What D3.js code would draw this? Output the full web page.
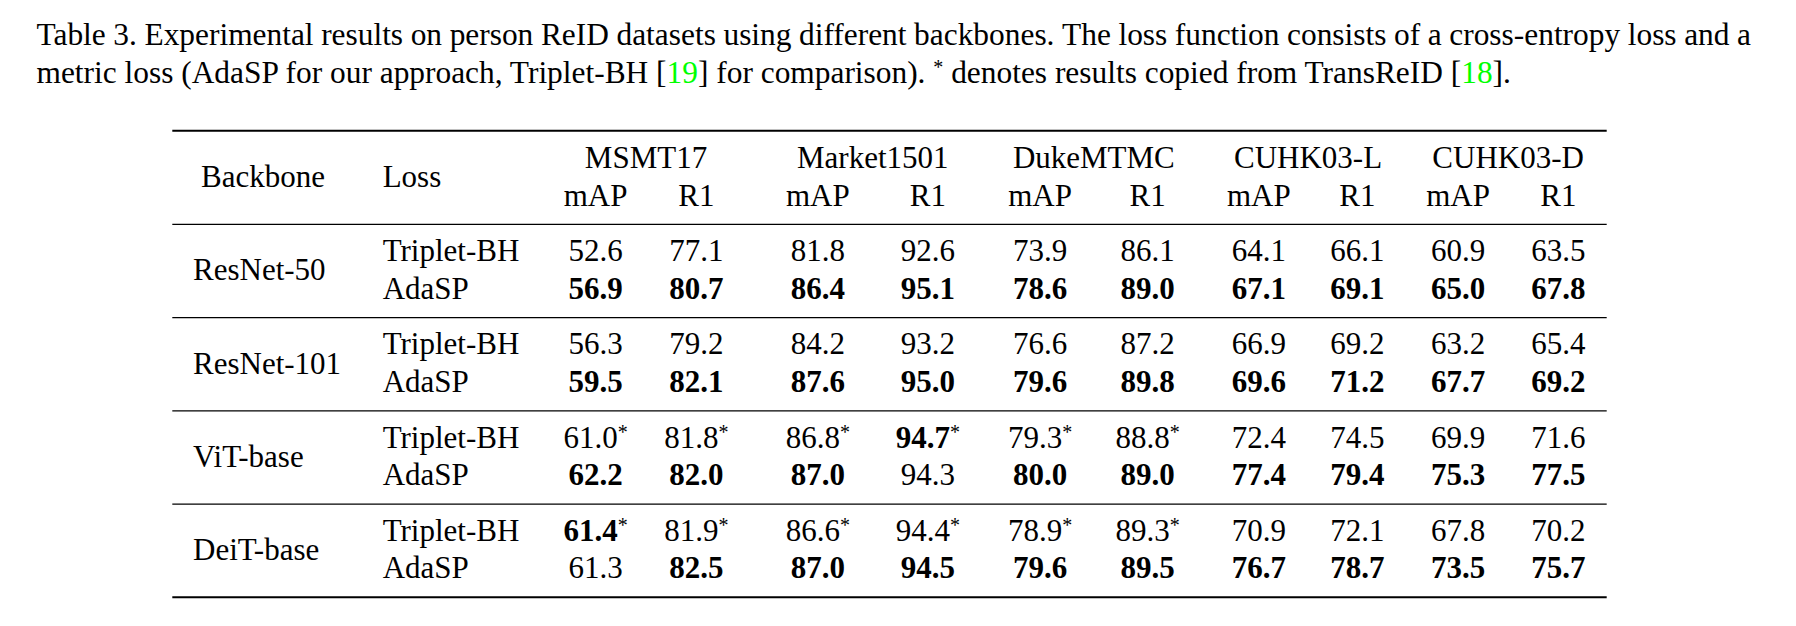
<!DOCTYPE html>
<html>
<head>
<meta charset="utf-8">
<script src="https://cdn.jsdelivr.net/npm/d3@7"></script>
<style>
  body { margin: 0; background: #fff; }
  text { font-family: "Liberation Serif", "Times New Roman", serif; fill: #000; }
</style>
</head>
<body>
<div id="table"></div>
<script>
// table content
var datasets = ['MSMT17', 'Market1501', 'DukeMTMC', 'CUHK03-L', 'CUHK03-D']
var metrics = ['mAP', 'R1']
var backbones = ['ResNet-50', 'ResNet-101', 'ViT-base', 'DeiT-base']
var losses = ['Triplet-BH', 'AdaSP']

// one row per backbone, columns: (mAP, R1) for each dataset
var tripletScores = [
    ['52.6', '77.1', '81.8', '92.6', '73.9', '86.1', '64.1', '66.1', '60.9', '63.5'],
    ['56.3', '79.2', '84.2', '93.2', '76.6', '87.2', '66.9', '69.2', '63.2', '65.4'],
    ['61.0', '81.8', '86.8', '94.7', '79.3', '88.8', '72.4', '74.5', '69.9', '71.6'],
    ['61.4', '81.9', '86.6', '94.4', '78.9', '89.3', '70.9', '72.1', '67.8', '70.2']
]
var adaspScores = [
    ['56.9', '80.7', '86.4', '95.1', '78.6', '89.0', '67.1', '69.1', '65.0', '67.8'],
    ['59.5', '82.1', '87.6', '95.0', '79.6', '89.8', '69.6', '71.2', '67.7', '69.2'],
    ['62.2', '82.0', '87.0', '94.3', '80.0', '89.0', '77.4', '79.4', '75.3', '77.5'],
    ['61.3', '82.5', '87.0', '94.5', '79.6', '89.5', '76.7', '78.7', '73.5', '75.7']
]
// * = copied from TransReID (Triplet-BH rows only)
var copiedFromTransReID = [
    [0, 0, 0, 0, 0, 0, 0, 0, 0, 0],
    [0, 0, 0, 0, 0, 0, 0, 0, 0, 0],
    [1, 1, 1, 1, 1, 1, 0, 0, 0, 0],
    [1, 1, 1, 1, 1, 1, 0, 0, 0, 0]
]

var captionLine1 = 'Table 3. Experimental results on person ReID datasets using different backbones. The loss function consists of a cross-entropy loss and a'

var width = 1796, height = 626
var fs = 31, capFs = 31.4

var svg = d3.select('#table').append('svg')
    .attr('width', width)
    .attr('height', height)

// ---- caption ----
// first line is justified like LaTeX: place each word and spread the gaps
var words = captionLine1.split(' ')
var capLeft = 36.5, capRight = 1751
var wordNodes = words.map(function (w) {
    return svg.append('text').attr('y', 45).style('font-size', capFs + 'px').text(w)
})
var wordW = wordNodes.map(function (n) { return n.node().getComputedTextLength() })
var gap = (capRight - capLeft - d3.sum(wordW)) / (words.length - 1)
var cx = capLeft
wordNodes.forEach(function (n, i) {
    n.attr('x', cx)
    cx += wordW[i] + gap
})

var line2 = svg.append('text').attr('x', capLeft).attr('y', 82.7).style('font-size', capFs + 'px')
line2.append('tspan').text('metric loss (AdaSP for our approach, Triplet-BH [')
line2.append('tspan').style('fill', '#00ff00').text('19')
line2.append('tspan').text('] for comparison). ')
line2.append('tspan').attr('dy', -9).style('font-size', '20px').text('*')
line2.append('tspan').attr('dy', 9).text(' denotes results copied from TransReID [')
line2.append('tspan').style('fill', '#00ff00').text('18')
line2.append('tspan').text('].')

// ---- layout ----
var tableLeft = 172.3, tableRight = 1606.7
var colKeys = d3.range(datasets.length * metrics.length)
var x = d3.scaleOrdinal()
    .domain(colKeys)
    .range([595.6, 696.4, 817.8, 927.8, 1040, 1147.7, 1258.8, 1357.3, 1458, 1558.3])
// group rules: header bottom rule, then one after each backbone
var ruleY = d3.scaleLinear().domain([0, backbones.length]).range([224.3, 597.3])

function rule(y, w) {
    svg.append('line')
        .attr('x1', tableLeft).attr('x2', tableRight)
        .attr('y1', y).attr('y2', y)
        .attr('stroke', '#000').attr('stroke-width', w)
}
rule(130.7, 2)
d3.range(backbones.length).forEach(function (i) { rule(ruleY(i), 1.3) })
rule(ruleY(backbones.length), 2)

// ---- header ----
svg.append('text').attr('x', 201).attr('y', 186.7).style('font-size', fs + 'px').text('Backbone')
svg.append('text').attr('x', 382.7).attr('y', 186.7).style('font-size', fs + 'px').text('Loss')

svg.selectAll('.dsName')
    .data(datasets)
    .enter()
    .append('text')
    .attr('class', 'dsName')
    .attr('x', function (d, i) { return (x(i * 2) + x(i * 2 + 1)) / 2 })
    .attr('y', 168.3)
    .attr('text-anchor', 'middle')
    .style('font-size', fs + 'px')
    .text(function (d) { return d })

svg.selectAll('.metric')
    .data(colKeys)
    .enter()
    .append('text')
    .attr('class', 'metric')
    .attr('x', function (d) { return x(d) })
    .attr('y', 206)
    .attr('text-anchor', 'middle')
    .style('font-size', fs + 'px')
    .text(function (d) { return metrics[d % 2] })

// ---- body ----
var offTriplet = 36.8, offAdasp = 74.3, offBackbone = 56

backbones.forEach(function (bb, b) {
    var top = ruleY(b)
    svg.append('text').attr('x', 193).attr('y', top + offBackbone)
        .style('font-size', fs + 'px').text(bb)

    var rows = [tripletScores[b], adaspScores[b]]
    rows.forEach(function (vals, r) {
        var y = top + (r == 0 ? offTriplet : offAdasp)
        svg.append('text').attr('x', 382.7).attr('y', y)
            .style('font-size', fs + 'px').text(losses[r])

        vals.forEach(function (v, c) {
            var other = rows[1 - r][c]
            var best = +v > +other
            var t = svg.append('text')
                .attr('x', x(c))
                .attr('y', y)
                .attr('text-anchor', 'middle')
                .style('font-size', fs + 'px')
            t.append('tspan').style('font-weight', best ? 'bold' : 'normal').text(v)
            if (r == 0 && copiedFromTransReID[b][c]) {
                t.append('tspan').attr('dy', -9).style('font-size', '20px').text('*')
            }
        })
    })
})
</script>
</body>
</html>
